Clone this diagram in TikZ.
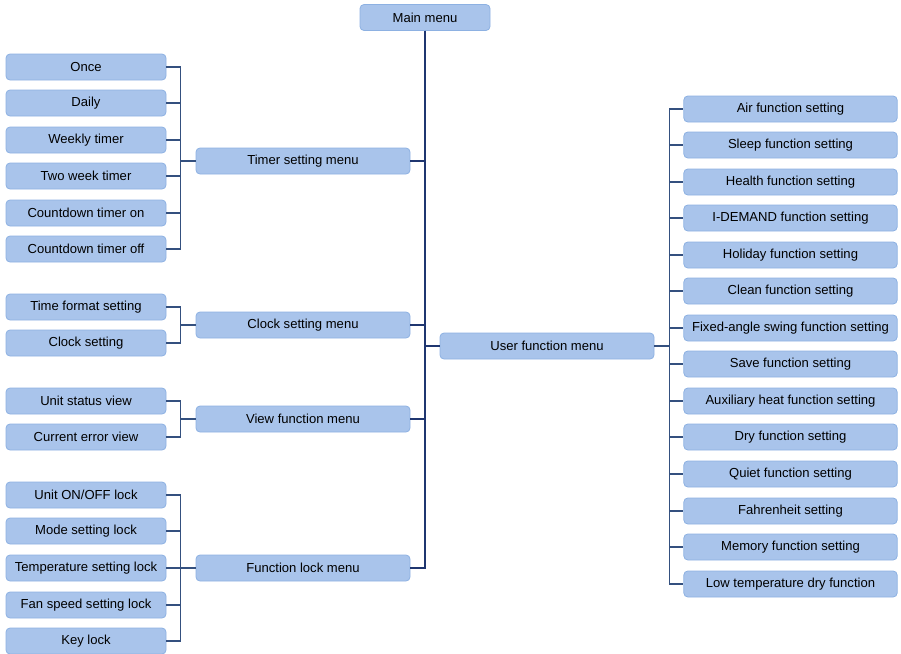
\documentclass[tikz,border=0pt]{standalone}
\usepackage{fontspec}
\setmainfont{Liberation Sans}
\definecolor{boxfill}{HTML}{A9C4EB}
\definecolor{boxdraw}{HTML}{8DB1E2}
\definecolor{trunk}{HTML}{1F3670}
\definecolor{branch}{HTML}{34507F}
\begin{document}
\begin{tikzpicture}[x=0.75pt,y=-0.75pt,
  box/.style={draw=boxdraw,fill=boxfill,rounded corners=3pt,line width=0.6pt,
    minimum height=19.5pt,inner sep=0pt,font=\fontsize{9.8}{11}\selectfont,text=black},
  lbox/.style={box,minimum width=120pt},
  mbox/.style={box,minimum width=160.5pt},
  rbox/.style={box,minimum width=160pt},
  tline/.style={draw=trunk,line width=1.3pt},
  bline/.style={draw=branch,line width=1pt}]
\useasboundingbox (0,0) rectangle (901,654);
% main
\node[box,minimum width=97.5pt] (main) at (425,17.5) {Main menu};
% mid boxes
\node[mbox] (tm) at (303,161) {Timer setting menu};
\node[mbox] (cm) at (303,325) {Clock setting menu};
\node[mbox] (vm) at (303,419) {View function menu};
\node[mbox] (lm) at (303,568) {Function lock menu};
\node[mbox] (um) at (547,346) {User function menu};
% left boxes
\node[lbox] (t1) at (86,67) {Once};
\node[lbox] (t2) at (86,103) {Daily};
\node[lbox] (t3) at (86,140) {Weekly timer};
\node[lbox] (t4) at (86,176) {Two week timer};
\node[lbox] (t5) at (86,213) {Countdown timer on};
\node[lbox] (t6) at (86,249) {Countdown timer off};
\node[lbox] (c1) at (86,307) {Time format setting};
\node[lbox] (c2) at (86,343) {Clock setting};
\node[lbox] (v1) at (86,401) {Unit status view};
\node[lbox] (v2) at (86,437) {Current error view};
\node[lbox] (l1) at (86,495) {Unit ON/OFF lock};
\node[lbox] (l2) at (86,531) {Mode setting lock};
\node[lbox] (l3) at (86,568) {Temperature setting lock};
\node[lbox] (l4) at (86,605) {Fan speed setting lock};
\node[lbox] (l5) at (86,641) {Key lock};
% right boxes
\node[rbox] (r1) at (790.5,109) {Air function setting};
\node[rbox] (r2) at (790.5,145) {Sleep function setting};
\node[rbox] (r3) at (790.5,182) {Health function setting};
\node[rbox] (r4) at (790.5,218) {I-DEMAND function setting};
\node[rbox] (r5) at (790.5,255) {Holiday function setting};
\node[rbox] (r6) at (790.5,291) {Clean function setting};
\node[rbox] (r7) at (790.5,328) {Fixed-angle swing function setting};
\node[rbox] (r8) at (790.5,364) {Save function setting};
\node[rbox] (r9) at (790.5,401) {Auxiliary heat function setting};
\node[rbox] (r10) at (790.5,437) {Dry function setting};
\node[rbox] (r11) at (790.5,474) {Quiet function setting};
\node[rbox] (r12) at (790.5,511) {Fahrenheit setting};
\node[rbox] (r13) at (790.5,547) {Memory function setting};
\node[rbox] (r14) at (790.5,584) {Low temperature dry function};
% trunk
\foreach \m in {tm,cm,vm,lm} \draw[tline] (main.south) |- (\m.east);
\draw[tline] (main.south) |- (um.west);
% left brackets
\path (tm.west) ++(-15,0) coordinate (tb);
\path (cm.west) ++(-15,0) coordinate (cb);
\path (vm.west) ++(-15,0) coordinate (vb);
\path (lm.west) ++(-15,0) coordinate (lb);
\draw[bline] (tm.west) -- (tb);
\draw[bline] (cm.west) -- (cb);
\draw[bline] (vm.west) -- (vb);
\draw[bline] (lm.west) -- (lb);
\foreach \c in {t1,t2,t3,t4,t5,t6} \draw[bline] (\c.east) -| (tb);
\foreach \c in {c1,c2} \draw[bline] (\c.east) -| (cb);
\foreach \c in {v1,v2} \draw[bline] (\c.east) -| (vb);
\foreach \c in {l1,l2,l3,l4,l5} \draw[bline] (\c.east) -| (lb);
% right bracket
\path (um.east) ++(15,0) coordinate (rb);
\draw[bline] (um.east) -- (rb);
\foreach \c in {r1,r2,r3,r4,r5,r6,r7,r8,r9,r10,r11,r12,r13,r14} \draw[bline] (rb) |- (\c.west);
\end{tikzpicture}
\end{document}
